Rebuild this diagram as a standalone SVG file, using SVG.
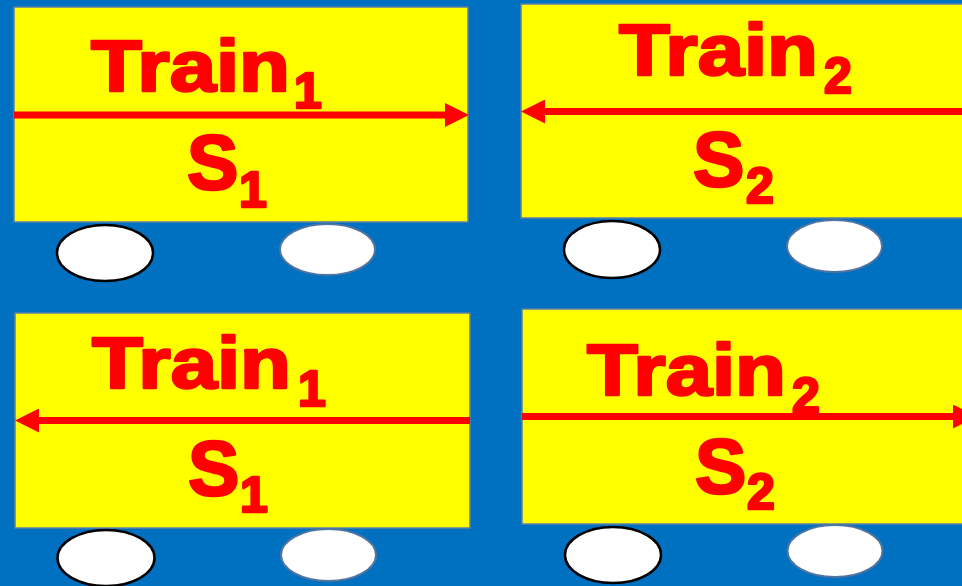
<svg xmlns="http://www.w3.org/2000/svg" width="962" height="586" viewBox="0 0 962 586">
<style>
.car{fill:#FFFF00;stroke:#5B7FA6;stroke-width:1.5}
.wb{fill:#FFFFFF;stroke:#000000;stroke-width:2.5}
.wg{fill:#FFFFFF;stroke:#4F74A0;stroke-width:2}
.t{font-family:"Liberation Sans",Arial,sans-serif;font-weight:bold;fill:#FF0000;stroke:#FF0000;stroke-width:2.6;stroke-linejoin:round}
.big{font-size:73px}
.s{font-size:77px}
.sub{font-size:50px}
.arr{stroke:#FF0000;stroke-width:7;fill:none}
</style>
<defs>
<marker id="ah" markerUnits="userSpaceOnUse" markerWidth="24" markerHeight="24" refX="0" refY="12" orient="auto" viewBox="0 0 24 24">
<path d="M0,0 L24,12 L0,24 Z" fill="#FF0000"/>
</marker>
</defs>
<rect x="0" y="0" width="962" height="586" fill="#0070C0"/>
<g id="train1-top">
<rect class="car" x="14" y="7" width="454" height="215"/>
<ellipse class="wb" cx="105" cy="253" rx="48" ry="28"/>
<ellipse class="wg" cx="327.5" cy="249.5" rx="47.5" ry="25.5"/>
<text class="t big" x="91" y="91" textLength="199" lengthAdjust="spacingAndGlyphs">Train</text>
<text class="t sub" x="294" y="108">1</text>
<text class="t s" x="187" y="189">S</text>
<text class="t sub" x="239" y="207">1</text>
</g>
<g id="train2-top">
<rect class="car" x="521" y="4" width="460" height="214"/>
<ellipse class="wb" cx="612" cy="249.5" rx="48" ry="28.5"/>
<ellipse class="wg" cx="834.5" cy="246" rx="47.5" ry="26"/>
<text class="t big" x="619" y="75" textLength="199" lengthAdjust="spacingAndGlyphs">Train</text>
<text class="t sub" x="824" y="93">2</text>
<text class="t s" x="693" y="186">S</text>
<text class="t sub" x="746" y="203">2</text>
</g>
<g id="train1-bottom">
<rect class="car" x="15" y="313" width="455" height="215"/>
<ellipse class="wb" cx="106" cy="558" rx="48.5" ry="28"/>
<ellipse class="wg" cx="328.5" cy="555" rx="47.5" ry="26"/>
<text class="t big" x="92" y="388" textLength="199" lengthAdjust="spacingAndGlyphs">Train</text>
<text class="t sub" x="298" y="406">1</text>
<text class="t s" x="188" y="495">S</text>
<text class="t sub" x="240" y="512">1</text>
</g>
<g id="train2-bottom">
<rect class="car" x="522" y="309" width="460" height="215"/>
<ellipse class="wb" cx="613" cy="555" rx="48" ry="28"/>
<ellipse class="wg" cx="835" cy="551" rx="47.5" ry="26"/>
<text class="t big" x="587" y="395" textLength="199" lengthAdjust="spacingAndGlyphs">Train</text>
<text class="t sub" x="792" y="413">2</text>
<text class="t s" x="695" y="493">S</text>
<text class="t sub" x="747" y="509">2</text>
</g>
<g id="connectors">
<line class="arr" x1="14" y1="115" x2="445" y2="115" marker-end="url(#ah)"/>
<line class="arr" x1="962" y1="111.5" x2="545" y2="111.5" marker-end="url(#ah)"/>
<line class="arr" x1="470" y1="420.5" x2="39" y2="420.5" marker-end="url(#ah)"/>
<line class="arr" x1="522" y1="416.5" x2="953" y2="416.5" marker-end="url(#ah)"/>
</g>
</svg>
